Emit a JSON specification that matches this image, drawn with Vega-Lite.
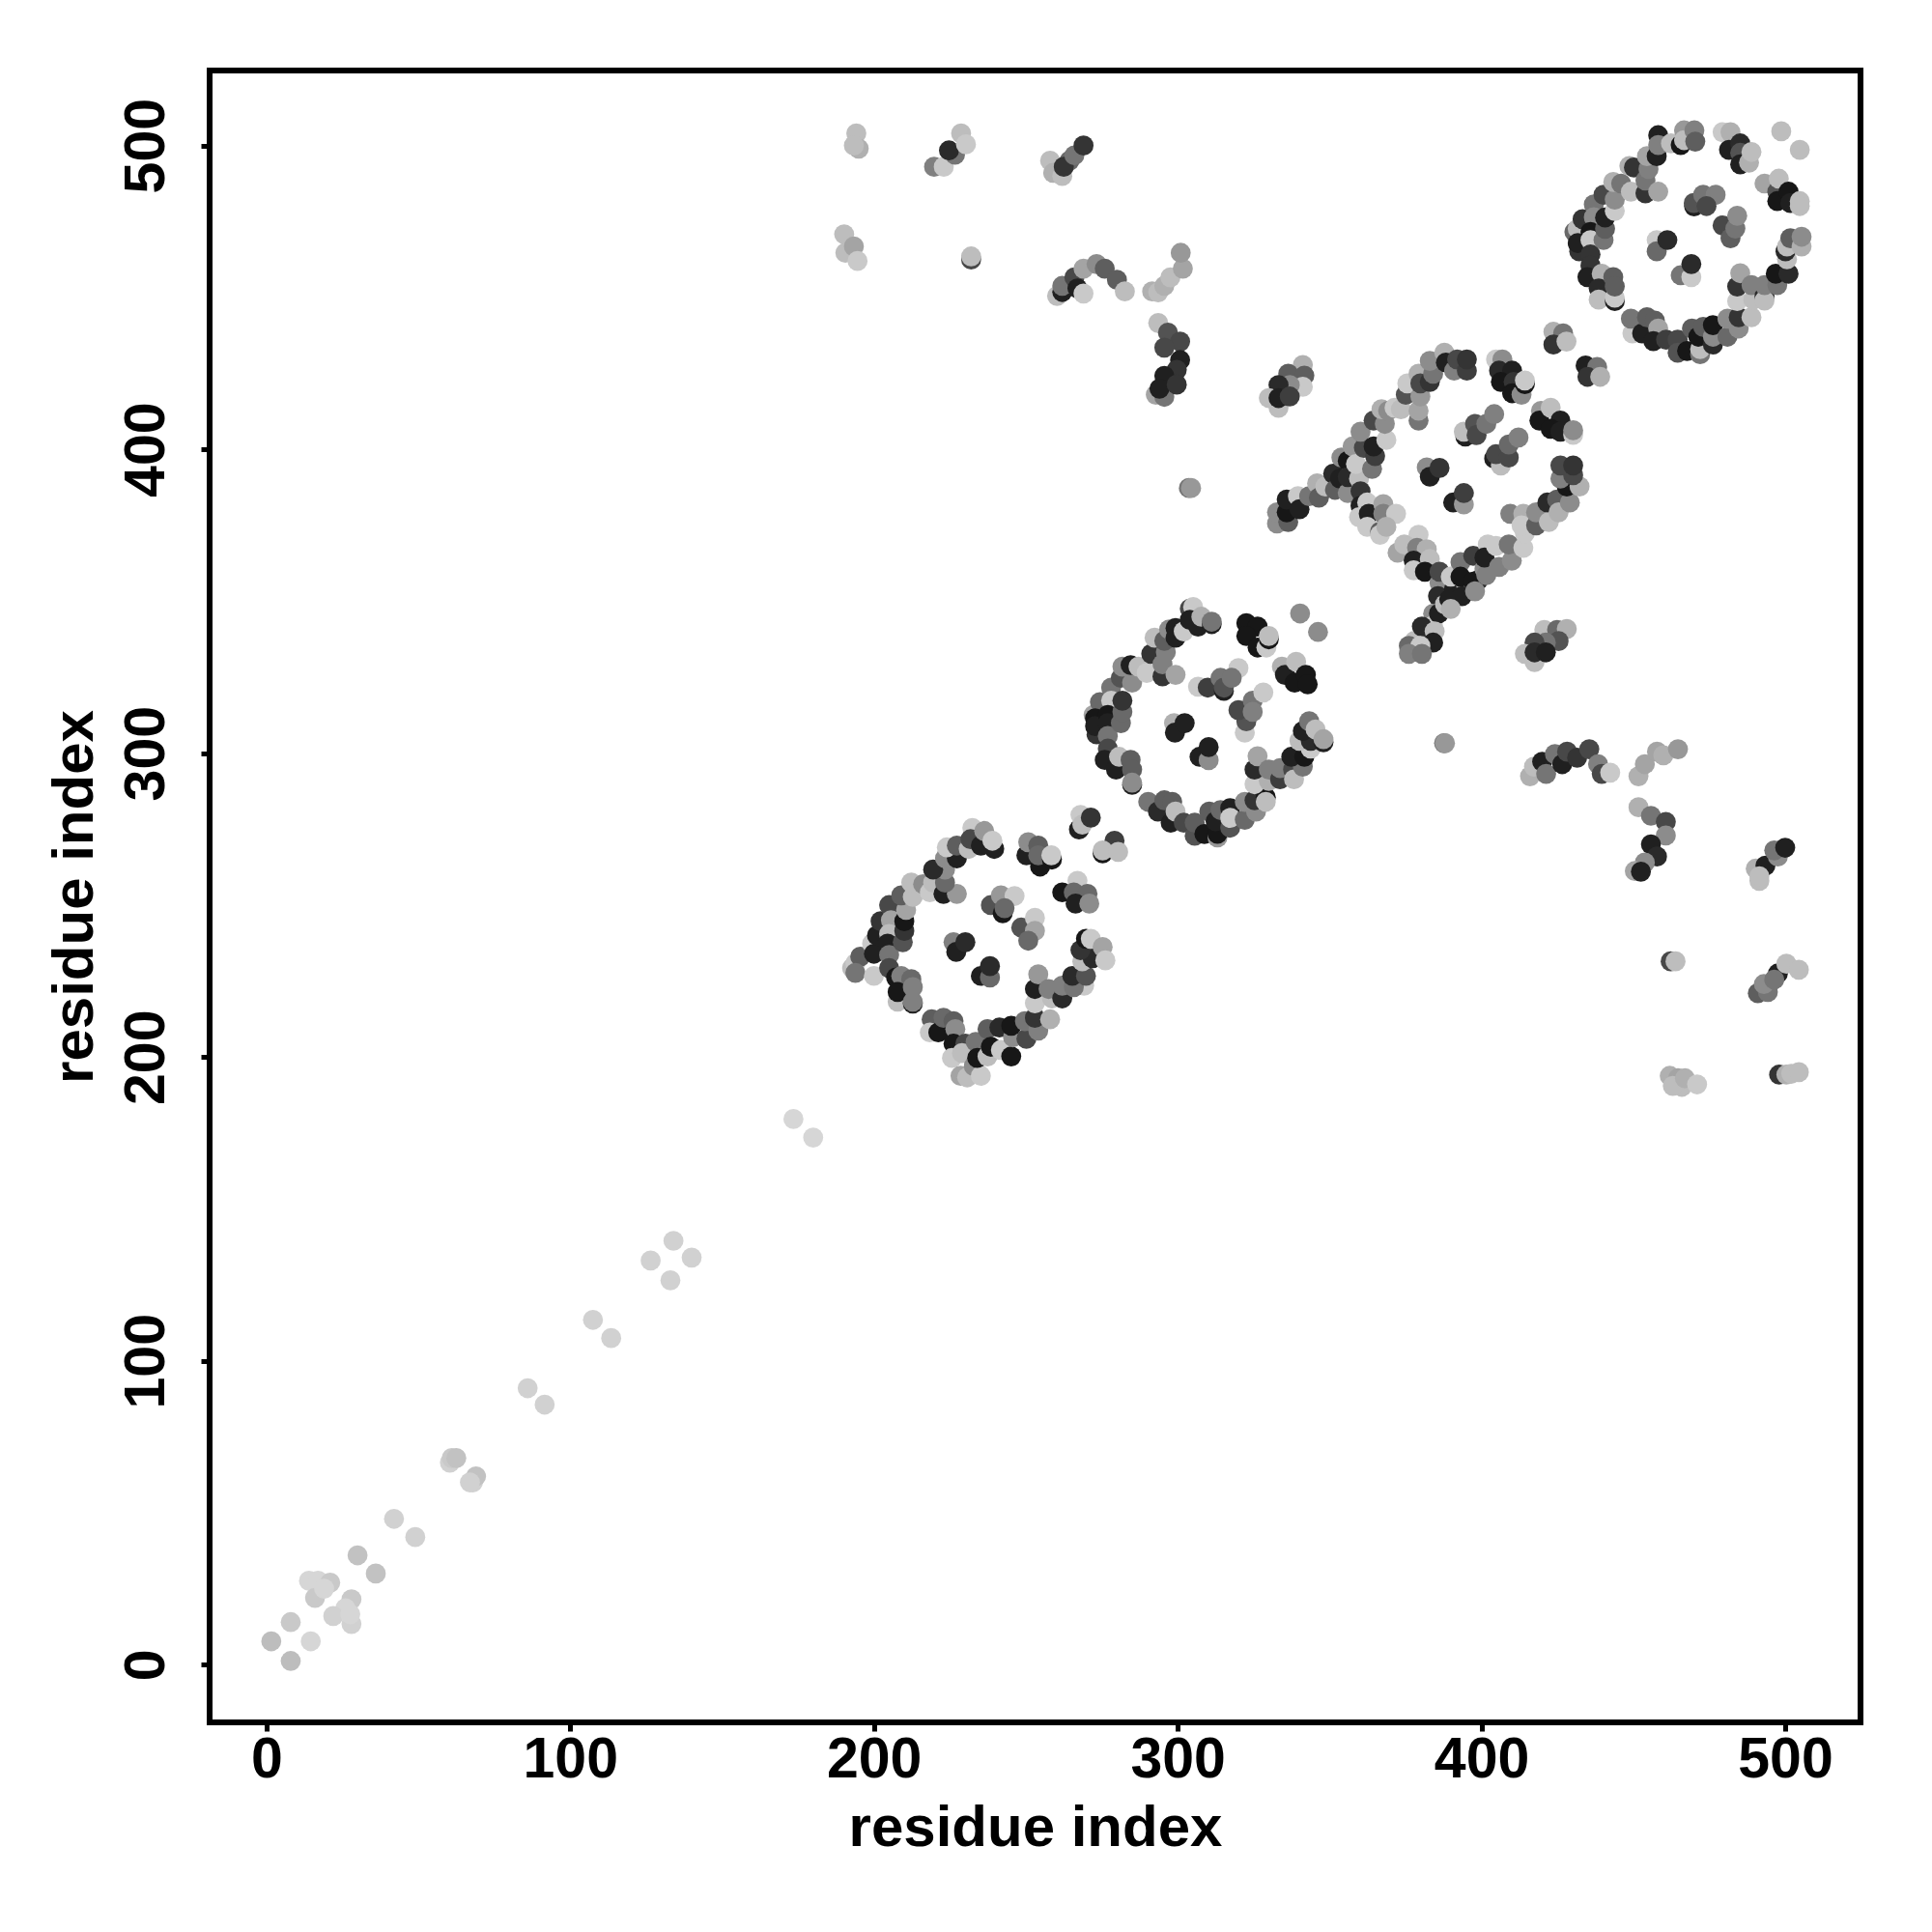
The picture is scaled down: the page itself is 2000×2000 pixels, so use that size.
{"$schema":"https://vega.github.io/schema/vega-lite/v6.json","width":1709,"height":1710,"autosize":"none","padding":{"left":217,"top":73,"right":74,"bottom":217},"background":"white",
"config":{"view":{"stroke":"black","strokeWidth":6}},
"data":{"values":[
{"x":1.6,"y":7.7,"g":0.8},{"x":8,"y":1.2,"g":0.8},{"x":8,"y":14,"g":0.85},{"x":14.6,"y":7.7,"g":0.9},{"x":14,"y":27.6,"g":0.9},{"x":17,"y":27.6,"g":0.9},{"x":16,"y":22,"g":0.85},{"x":21,"y":27,"g":0.85},{"x":19,"y":25,"g":0.9},{"x":28,"y":21.5,"g":0.85},{"x":26,"y":18.6,"g":0.9},{"x":22,"y":16,"g":0.88},{"x":28,"y":13.4,"g":0.88},{"x":27.6,"y":16.6,"g":0.9},{"x":30,"y":36,"g":0.82},{"x":36,"y":30,"g":0.82},{"x":42,"y":48,"g":0.88},{"x":49,"y":42,"g":0.88},{"x":60.4,"y":66.5,"g":0.88},{"x":61,"y":68,"g":0.85},{"x":62.5,"y":68,"g":0.82},{"x":68,"y":60,"g":0.88},{"x":69,"y":62,"g":0.82},{"x":67,"y":60,"g":0.88},{"x":86,"y":91,"g":0.88},{"x":91.6,"y":85.6,"g":0.88},{"x":107.5,"y":113.5,"g":0.88},{"x":113.5,"y":107.5,"g":0.88},{"x":126.5,"y":133,"g":0.88},{"x":133,"y":126.5,"g":0.88},{"x":134,"y":139.5,"g":0.88},{"x":140,"y":134,"g":0.88},{"x":173.5,"y":179.6,"g":0.9},{"x":180,"y":173.5,"g":0.9},
{"x":192.8,"y":229.3,"g":0.8},{"x":193.9,"y":230.9,"g":0.85},{"x":195.5,"y":233,"g":0.4},{"x":193.9,"y":227.7,"g":0.5},{"x":199.4,"y":237.3,"g":0.85},{"x":200,"y":234,"g":0.1},{"x":201,"y":240,"g":0.1},{"x":202.2,"y":244.7,"g":0.2},{"x":205,"y":250,"g":0.3},{"x":205.6,"y":245,"g":0.7},{"x":205,"y":240.5,"g":0.8},{"x":204.5,"y":237.3,"g":0.1},{"x":205,"y":233.6,"g":0.5},{"x":209.5,"y":237.8,"g":0.35},{"x":210,"y":241.5,"g":0.2},{"x":210,"y":244.7,"g":0.05},{"x":210.6,"y":248.4,"g":0.7},{"x":209,"y":253.2,"g":0.4},{"x":212.8,"y":252.7,"g":0.8},{"x":212.3,"y":257.4,"g":0.8},{"x":216.2,"y":256.9,"g":0.6},{"x":218.4,"y":254.2,"g":0.85},{"x":219.5,"y":257.4,"g":0.8},{"x":222.9,"y":253.7,"g":0.1},{"x":227.3,"y":253.7,"g":0.65},{"x":223.4,"y":257.4,"g":0.45},{"x":223.4,"y":261.7,"g":0.6},{"x":219.5,"y":261.7,"g":0.15},{"x":223.4,"y":265.4,"g":0.6},{"x":227.3,"y":265.4,"g":0.1},{"x":224,"y":269,"g":0.85},{"x":227.3,"y":269.6,"g":0.4},{"x":231.2,"y":268.5,"g":0.8},{"x":232.4,"y":275.4,"g":0.85},{"x":231.8,"y":271.7,"g":0.3},{"x":235.2,"y":269.6,"g":0.1},{"x":236.3,"y":274.4,"g":0.65},{"x":239.6,"y":268.5,"g":0.1},{"x":239,"y":271.2,"g":0.85},
{"x":200,"y":226.7,"g":0.85},{"x":205,"y":229.3,"g":0.3},{"x":207.3,"y":226.2,"g":0.05},{"x":209,"y":226.7,"g":0.55},{"x":212.3,"y":225.6,"g":0.45},{"x":207.8,"y":218.2,"g":0.8},{"x":207.8,"y":221.4,"g":0.05},{"x":212.8,"y":217.6,"g":0.1},{"x":212.8,"y":223,"g":0.55},{"x":212.8,"y":218.2,"g":0.55},
{"x":219,"y":212.4,"g":0.4},{"x":218.4,"y":208.1,"g":0.85},{"x":221.2,"y":208.1,"g":0.05},{"x":222.9,"y":212.9,"g":0.45},{"x":226.2,"y":211.8,"g":0.4},{"x":226.8,"y":209.2,"g":0.6},{"x":226.2,"y":204.4,"g":0.05},{"x":230.1,"y":204.4,"g":0.3},{"x":225.7,"y":199.7,"g":0.85},{"x":228.5,"y":193.8,"g":0.7},{"x":230.7,"y":193.3,"g":0.8},{"x":229,"y":201.3,"g":0.8},{"x":232.9,"y":197,"g":0.6},{"x":235.2,"y":193.8,"g":0.85},{"x":233.5,"y":205,"g":0.5},{"x":234,"y":199.7,"g":0.05},{"x":237.4,"y":209.2,"g":0.4},{"x":237.4,"y":200.2,"g":0.8},{"x":238.5,"y":203.4,"g":0.05},{"x":241.3,"y":209.7,"g":0.15},{"x":241.8,"y":202.3,"g":0.85},{"x":245.2,"y":200.2,"g":0.05},{"x":245.8,"y":206.5,"g":0.6},{"x":245.2,"y":210.3,"g":0.05},{"x":250.2,"y":206,"g":0.3},{"x":249.7,"y":211.8,"g":0.5},{"x":254.1,"y":208.7,"g":0.55},{"x":253,"y":212.9,"g":0.2},{"x":258,"y":212.4,"g":0.75},{"x":253,"y":217.7,"g":0.85},{"x":253,"y":222.4,"g":0.1},{"x":258.6,"y":219.3,"g":0.8},{"x":254.1,"y":227.2,"g":0.65},{"x":257.5,"y":222.4,"g":0.55},{"x":262,"y":219.3,"g":0.15},{"x":262,"y":223.5,"g":0.55},{"x":269.2,"y":223.5,"g":0.85},{"x":265.8,"y":223,"g":0.5},{"x":265.3,"y":226.7,"g":0.15},{"x":269.8,"y":226.7,"g":0.35},{"x":268.6,"y":231.5,"g":0.8},{"x":272,"y":232.5,"g":0.15},{"x":268,"y":235.2,"g":0.2},{"x":269.8,"y":238.9,"g":0.05},{"x":271.4,"y":238.9,"g":0.85},{"x":275.3,"y":236.2,"g":0.7},{"x":276.2,"y":231.8,"g":0.85},
{"x":250.2,"y":266.4,"g":0.1},{"x":250.8,"y":270.7,"g":0.6},{"x":254.7,"y":262.7,"g":0.05},{"x":254.1,"y":269.6,"g":0.4},{"x":254.1,"y":266.4,"g":0.45},{"x":258.6,"y":265,"g":0.05},{"x":258.4,"y":266.4,"g":0.85},{"x":267,"y":258,"g":0.85},{"x":262,"y":254.2,"g":0.05},{"x":265.8,"y":254.2,"g":0.45},{"x":270.3,"y":253.7,"g":0.45},{"x":266.4,"y":250.5,"g":0.1},{"x":270.9,"y":250.5,"g":0.6},{"x":267.5,"y":274.9,"g":0.1},{"x":268,"y":279.7,"g":0.85},{"x":268.6,"y":276.5,"g":0.8},{"x":271.4,"y":278.8,"g":0.2},{"x":279.2,"y":271.2,"g":0.25},{"x":275.3,"y":267,"g":0.05},{"x":275.3,"y":268,"g":0.8},{"x":280.4,"y":267.5,"g":0.8},
{"x":226.2,"y":237.8,"g":0.55},{"x":227.1,"y":234.6,"g":0.1},{"x":230.1,"y":237.8,"g":0.15},{"x":235.2,"y":226.7,"g":0.1},{"x":238.2,"y":226.2,"g":0.45},{"x":238.2,"y":229.9,"g":0.15},{"x":238.5,"y":250,"g":0.35},{"x":242.4,"y":247.3,"g":0.05},{"x":241.8,"y":253.2,"g":0.65},{"x":246.3,"y":253,"g":0.85},{"x":243,"y":249,"g":0.45},{"x":248.5,"y":242.6,"g":0.35},{"x":253,"y":245.8,"g":0.85},{"x":253,"y":241.5,"g":0.7},{"x":250.8,"y":238.3,"g":0.45},
{"x":272.3,"y":312.6,"g":0.7},{"x":274.4,"y":316.8,"g":0.45},{"x":272.8,"y":311.5,"g":0.05},{"x":273.3,"y":306.2,"g":0.2},{"x":272.8,"y":308.9,"g":0.1},{"x":278.1,"y":321.6,"g":0.5},{"x":278.1,"y":317.3,"g":0.85},{"x":277,"y":312.6,"g":0.05},{"x":277,"y":309.9,"g":0.1},{"x":277,"y":305.7,"g":0.5},{"x":277,"y":301.5,"g":0.3},{"x":281.3,"y":309.9,"g":0.45},{"x":281.8,"y":313.6,"g":0.45},{"x":281.8,"y":317.3,"g":0.2},{"x":281.3,"y":324.8,"g":0.35},{"x":285,"y":323.2,"g":0.6},{"x":281.8,"y":328.5,"g":0.6},{"x":284.5,"y":329,"g":0.1},{"x":287.1,"y":328.5,"g":0.8},{"x":289.8,"y":326.4,"g":0.85},{"x":291.3,"y":332.7,"g":0.2},{"x":292.4,"y":338,"g":0.8},{"x":295,"y":325.3,"g":0.2},{"x":295,"y":329.3,"g":0.55},{"x":299.3,"y":325.8,"g":0.7},{"x":296.1,"y":333.3,"g":0.55},{"x":295.6,"y":337,"g":0.4},{"x":297.2,"y":340.7,"g":0.6},{"x":299.3,"y":341.2,"g":0.1},{"x":299.3,"y":338,"g":0.1},{"x":302,"y":340.1,"g":0.85},{"x":304,"y":347.6,"g":0.3},{"x":305.1,"y":348.1,"g":0.85},{"x":304,"y":343.9,"g":0.1},{"x":306.7,"y":341.7,"g":0.1},{"x":307.8,"y":344.9,"g":0.75},{"x":311.2,"y":342.5,"g":0.1},{"x":311.2,"y":343.3,"g":0.5},
{"x":276,"y":297.8,"g":0.1},{"x":279.7,"y":294.6,"g":0.1},{"x":280.7,"y":298.8,"g":0.8},{"x":284.5,"y":297.8,"g":0.4},{"x":285,"y":294.6,"g":0.4},{"x":285,"y":289.6,"g":0.1},{"x":285,"y":290.3,"g":0.6},
{"x":290.3,"y":284,"g":0.5},{"x":293.5,"y":280.8,"g":0.15},{"x":295.6,"y":284.5,"g":0.4},{"x":297.7,"y":277.1,"g":0.1},{"x":298.2,"y":284,"g":0.4},{"x":299.3,"y":280.8,"g":0.8},{"x":302,"y":277.1,"g":0.3},{"x":305.6,"y":272.8,"g":0.35},{"x":305.6,"y":277.1,"g":0.4},{"x":308.8,"y":273.4,"g":0.05},{"x":310.4,"y":280.8,"g":0.4},{"x":313.1,"y":272.3,"g":0.65},{"x":313.1,"y":273.5,"g":0.05},{"x":312.5,"y":277.6,"g":0.1},{"x":314.1,"y":281.3,"g":0.45},{"x":317.3,"y":275.5,"g":0.35},{"x":317.3,"y":281.9,"g":0.1},{"x":317.3,"y":278.7,"g":0.85},{"x":322.1,"y":278.1,"g":0.45},{"x":322.1,"y":284,"g":0.6},{"x":325.8,"y":280.8,"g":0.6},{"x":325.3,"y":284.5,"g":0.2},{"x":329,"y":285.5,"g":0.05},{"x":329,"y":284,"g":0.8},{"x":325.3,"y":289.8,"g":0.85},{"x":330,"y":290.9,"g":0.75},{"x":325.3,"y":294.6,"g":0.15},{"x":326.3,"y":299,"g":0.7},{"x":330,"y":294.6,"g":0.55},{"x":333.7,"y":291.4,"g":0.25},{"x":333.7,"y":295.1,"g":0.55},{"x":338,"y":294.6,"g":0.3},{"x":338.3,"y":291.4,"g":0.8},{"x":341.2,"y":295.6,"g":0.5},{"x":337.4,"y":298.8,"g":0.1},{"x":341.7,"y":298.8,"g":0.05},{"x":343.8,"y":301.5,"g":0.85},{"x":340.1,"y":304.1,"g":0.8},{"x":343.8,"y":304.1,"g":0.15},{"x":341.2,"y":307.3,"g":0.1},{"x":343.3,"y":310.5,"g":0.5},{"x":345.4,"y":307.8,"g":0.8},{"x":348,"y":303.6,"g":0.1},{"x":348,"y":304.6,"g":0.7},
{"x":322.6,"y":342.8,"g":0.05},{"x":326.3,"y":341.7,"g":0.05},{"x":322.6,"y":338.6,"g":0.05},{"x":326.3,"y":334.8,"g":0.05},{"x":329.2,"y":334.8,"g":0.85},{"x":330,"y":337.5,"g":0.05},{"x":330,"y":338.6,"g":0.8},{"x":334.3,"y":328.5,"g":0.75},{"x":335.3,"y":325.8,"g":0.1},{"x":338.5,"y":323.2,"g":0.05},{"x":339,"y":330.1,"g":0.8},{"x":342.2,"y":325.8,"g":0.05},{"x":342.8,"y":322.7,"g":0.05},{"x":340.3,"y":346,"g":0.6},{"x":346.2,"y":339.9,"g":0.6},
{"x":298.8,"y":309.9,"g":0.75},{"x":299.1,"y":306.8,"g":0.1},{"x":302.3,"y":309.9,"g":0.1},{"x":307.2,"y":298.8,"g":0.1},{"x":310.2,"y":297.7,"g":0.6},{"x":310.2,"y":302,"g":0.1},{"x":306.7,"y":321.9,"g":0.85},{"x":309.9,"y":321.6,"g":0.25},{"x":315.2,"y":320.5,"g":0.1},{"x":314.1,"y":324.8,"g":0.5},{"x":315.2,"y":321.6,"g":0.35},{"x":320,"y":328,"g":0.85},{"x":317.8,"y":324.8,"g":0.5},{"x":322.1,"y":306.8,"g":0.85},{"x":322.6,"y":310.5,"g":0.35},{"x":320,"y":314.2,"g":0.3},{"x":324.7,"y":317.3,"g":0.5},{"x":328.2,"y":320,"g":0.85},{"x":324.7,"y":313.6,"g":0.55},
{"x":341.2,"y":427.8,"g":0.75},{"x":336.4,"y":424.9,"g":0.4},{"x":341.7,"y":424.3,"g":0.4},{"x":341.2,"y":420.6,"g":0.85},{"x":336.9,"y":421.2,"g":0.6},{"x":333.2,"y":421.2,"g":0.15},{"x":330,"y":416.9,"g":0.8},{"x":333.2,"y":413.7,"g":0.8},{"x":333.2,"y":416.9,"g":0.1},{"x":336.9,"y":417.4,"g":0.25},
{"x":332.7,"y":375.6,"g":0.6},{"x":332.7,"y":379.3,"g":0.6},{"x":336.4,"y":376.1,"g":0.4},{"x":335.9,"y":379.3,"g":0.05},{"x":335.9,"y":383.5,"g":0.1},{"x":339.6,"y":384.6,"g":0.85},{"x":340.1,"y":380.3,"g":0.1},{"x":343.3,"y":384.6,"g":0.5},{"x":345.9,"y":388.8,"g":0.75},{"x":346.5,"y":384.1,"g":0.4},{"x":348.6,"y":387.8,"g":0.8},{"x":351.2,"y":392,"g":0.15},{"x":351.8,"y":386.7,"g":0.4},{"x":353.9,"y":397.3,"g":0.6},{"x":353.4,"y":390.4,"g":0.1},{"x":356,"y":396.2,"g":0.05},{"x":356,"y":385.6,"g":0.6},{"x":357.6,"y":401,"g":0.65},{"x":356,"y":390.9,"g":0.15},{"x":359.7,"y":390.4,"g":0.8},{"x":360.2,"y":386.2,"g":0.2},{"x":358.7,"y":395.2,"g":0.85},{"x":361.3,"y":400.5,"g":0.3},{"x":360.2,"y":405.8,"g":0.6},{"x":364,"y":393.6,"g":0.5},{"x":365,"y":397.8,"g":0.25},{"x":364.5,"y":401,"g":0.1},{"x":364.5,"y":409.5,"g":0.3},{"x":368.7,"y":403.1,"g":0.85},{"x":368.2,"y":408.4,"g":0.6},{"x":367.1,"y":413.2,"g":0.75},{"x":369.3,"y":412.7,"g":0.6},{"x":371.4,"y":413.7,"g":0.85},{"x":373.5,"y":413.2,"g":0.8},{"x":375.1,"y":418,"g":0.35},{"x":375.6,"y":421.7,"g":0.85},{"x":379.3,"y":409.5,"g":0.5},{"x":379.3,"y":412.7,"g":0.7},{"x":379.9,"y":417.4,"g":0.65},{"x":379.3,"y":424.9,"g":0.75},{"x":379.9,"y":421.7,"g":0.3},{"x":383,"y":422.2,"g":0.2},{"x":384.1,"y":424.9,"g":0.5},{"x":383,"y":429.1,"g":0.6},{"x":387.8,"y":431.8,"g":0.75},{"x":388.3,"y":428.6,"g":0.1},{"x":391,"y":425.9,"g":0.55},{"x":392,"y":429.6,"g":0.3},{"x":395.2,"y":425.9,"g":0.25},{"x":395.2,"y":429.6,"g":0.2},
{"x":360.2,"y":381.4,"g":0.1},{"x":362.4,"y":382.5,"g":0.85},{"x":359.7,"y":377.7,"g":0.85},{"x":362.9,"y":378.8,"g":0.1},{"x":362.4,"y":374.5,"g":0.85},{"x":367.7,"y":382,"g":0.7},{"x":367.7,"y":378.8,"g":0.55},{"x":371.9,"y":378.8,"g":0.85},{"x":366.6,"y":372.9,"g":0.4},{"x":366.6,"y":371.9,"g":0.85},{"x":368.7,"y":374.5,"g":0.75},
{"x":372.4,"y":366,"g":0.7},{"x":379.3,"y":371.9,"g":0.85},{"x":374.6,"y":368.7,"g":0.8},{"x":378.8,"y":367.6,"g":0.55},{"x":382,"y":367.1,"g":0.75},{"x":377.7,"y":363.4,"g":0.1},{"x":383,"y":363.9,"g":0.8},{"x":377.7,"y":360.2,"g":0.85},{"x":381.4,"y":359.7,"g":0.05},{"x":386.2,"y":356,"g":0.6},{"x":386.2,"y":359.7,"g":0.3},{"x":385.7,"y":351.7,"g":0.15},{"x":384.1,"y":345.9,"g":0.6},{"x":382,"y":338,"g":0.3},{"x":384,"y":342,"g":0.85},{"x":386,"y":346,"g":0.1},{"x":388,"y":349,"g":0.8},{"x":391,"y":354,"g":0.1},{"x":395,"y":355,"g":0.8},{"x":378,"y":337,"g":0.8},{"x":399,"y":357,"g":0.15},{"x":389.9,"y":358.1,"g":0.85},{"x":393.1,"y":362.9,"g":0.5},{"x":393.1,"y":358.1,"g":0.05},{"x":389.4,"y":350.7,"g":0.1},{"x":393.6,"y":351.7,"g":0.1},{"x":389.9,"y":347.5,"g":0.75},{"x":380.4,"y":341.7,"g":0.15},{"x":384.6,"y":340.1,"g":0.8},{"x":384.1,"y":336.4,"g":0.1},{"x":376.1,"y":335.3,"g":0.45},{"x":379.9,"y":335.3,"g":0.85},{"x":376.1,"y":332.7,"g":0.55},{"x":380.4,"y":332.7,"g":0.5},{"x":397.3,"y":365,"g":0.25},{"x":397.3,"y":356.5,"g":0.05},{"x":397.9,"y":353.3,"g":0.6},{"x":401,"y":360.7,"g":0.6},{"x":401.6,"y":358.6,"g":0.55},{"x":402.1,"y":368.7,"g":0.85},{"x":401,"y":364.4,"g":0.1},{"x":405.8,"y":361.3,"g":0.55},{"x":404.8,"y":368.2,"g":0.85},{"x":410,"y":363.4,"g":0.6},{"x":409,"y":368.7,"g":0.5},{"x":413.8,"y":367.6,"g":0.85},{"x":414.3,"y":372.4,"g":0.85},{"x":409.5,"y":378.8,"g":0.55},{"x":413.8,"y":378.8,"g":0.75},{"x":413.2,"y":375,"g":0.85},{"x":418,"y":375,"g":0.4},{"x":418,"y":379.3,"g":0.6},{"x":422.2,"y":376.1,"g":0.8},{"x":421.7,"y":382.5,"g":0.15},{"x":424.9,"y":383.5,"g":0.4},{"x":425.4,"y":379.3,"g":0.75},{"x":429.1,"y":382.5,"g":0.6},{"x":428.1,"y":387.8,"g":0.05},{"x":432.3,"y":387.8,"g":0.75},{"x":426,"y":390.4,"g":0.55},{"x":430.2,"y":391.5,"g":0.3},{"x":426,"y":394.7,"g":0.3},{"x":430.2,"y":394.7,"g":0.2},
{"x":404.8,"y":429.6,"g":0.85},{"x":406.9,"y":429.6,"g":0.6},{"x":405.8,"y":425.9,"g":0.15},{"x":410.1,"y":425.9,"g":0.1},{"x":406.4,"y":422.2,"g":0.05},{"x":410.6,"y":422.2,"g":0.2},{"x":410.1,"y":418.5,"g":0.05},{"x":413.2,"y":418,"g":0.6},{"x":414.3,"y":421.5,"g":0.05},{"x":414.3,"y":422.7,"g":0.85},{"x":419.6,"y":412.7,"g":0.65},{"x":419.1,"y":409.5,"g":0.05},{"x":422.8,"y":413.7,"g":0.8},{"x":426,"y":409.5,"g":0.1},{"x":422.8,"y":406.8,"g":0.05},{"x":426,"y":405.8,"g":0.1},{"x":430.2,"y":404.8,"g":0.85},{"x":430.2,"y":406.3,"g":0.6},
{"x":382,"y":394.1,"g":0.6},{"x":383,"y":391,"g":0.1},{"x":386.2,"y":393.9,"g":0.2},{"x":390.7,"y":382.5,"g":0.1},{"x":394.2,"y":381.9,"g":0.65},{"x":394.2,"y":385.6,"g":0.25},{"x":394.7,"y":404.2,"g":0.1},{"x":394.2,"y":405.8,"g":0.8},{"x":397.9,"y":408.4,"g":0.35},{"x":398.4,"y":404.7,"g":0.3},{"x":401.6,"y":408.4,"g":0.5},{"x":404.2,"y":411.6,"g":0.55},{"x":404.2,"y":397,"g":0.1},{"x":406.4,"y":394.7,"g":0.8},{"x":404.8,"y":398.4,"g":0.3},{"x":409,"y":397.3,"g":0.3},{"x":409,"y":401.6,"g":0.45},{"x":412.2,"y":403.9,"g":0.55},
{"x":420.7,"y":340.6,"g":0.8},{"x":424.9,"y":340.6,"g":0.45},{"x":428.1,"y":340.9,"g":0.75},{"x":425.4,"y":336.9,"g":0.35},{"x":421.2,"y":336.4,"g":0.5},{"x":417.5,"y":336.4,"g":0.3},{"x":414.3,"y":332.7,"g":0.8},{"x":417.5,"y":330,"g":0.8},{"x":417.5,"y":333.2,"g":0.15},{"x":421.2,"y":333.2,"g":0.1},
{"x":423.7,"y":438.7,"g":0.75},{"x":426.9,"y":438.2,"g":0.5},{"x":423.7,"y":434.5,"g":0.2},{"x":428,"y":435.5,"g":0.8},{"x":434.3,"y":427.6,"g":0.1},{"x":438.1,"y":427.1,"g":0.5},{"x":434.9,"y":423.9,"g":0.2},{"x":439.1,"y":423.9,"g":0.75},
{"x":430.6,"y":471.6,"g":0.45},{"x":431.7,"y":472.6,"g":0.8},{"x":433.3,"y":475.8,"g":0.2},{"x":432.2,"y":465.2,"g":0.2},{"x":431.7,"y":467.9,"g":0.1},{"x":437,"y":480.6,"g":0.5},{"x":437,"y":476.4,"g":0.6},{"x":435.9,"y":471.6,"g":0.05},{"x":435.9,"y":468.9,"g":0.85},{"x":435.9,"y":464.2,"g":0.2},{"x":435.9,"y":460.5,"g":0.2},{"x":440.2,"y":468.9,"g":0.5},{"x":440.7,"y":472.6,"g":0.4},{"x":440.7,"y":476.3,"g":0.1},{"x":440.2,"y":483.8,"g":0.3},{"x":443.9,"y":478.5,"g":0.85},{"x":443.9,"y":482.2,"g":0.6},{"x":443.4,"y":488,"g":0.75},{"x":446,"y":487.5,"g":0.5},{"x":448.7,"y":493.3,"g":0.75},{"x":450.2,"y":492.8,"g":0.2},{"x":449.2,"y":484.8,"g":0.8},{"x":454,"y":484.3,"g":0.2},{"x":454,"y":488.5,"g":0.5},{"x":458.2,"y":484.8,"g":0.7},{"x":455,"y":492.3,"g":0.55},{"x":454.5,"y":496.5,"g":0.7},{"x":457.7,"y":496.5,"g":0.1},{"x":458.2,"y":503.4,"g":0.1},{"x":458.2,"y":500.2,"g":0.55},{"x":462.4,"y":500.7,"g":0.8},{"x":465.6,"y":500.2,"g":0.05},{"x":466.7,"y":505,"g":0.65},{"x":466.7,"y":501.8,"g":0.8},{"x":470.1,"y":505,"g":0.55},{"x":470.4,"y":501.3,"g":0.4},
{"x":434.9,"y":456.7,"g":0.1},{"x":439.6,"y":457.8,"g":0.75},{"x":438.6,"y":453,"g":0.15},{"x":443.4,"y":456.7,"g":0.4},{"x":438.6,"y":449.3,"g":0.8},{"x":443.9,"y":448.8,"g":0.1},{"x":443.9,"y":449.9,"g":0.85},{"x":443.9,"y":453.6,"g":0.4},
{"x":449.7,"y":438.2,"g":0.85},{"x":449.2,"y":443,"g":0.5},{"x":452.9,"y":438.2,"g":0.1},{"x":454.5,"y":443.5,"g":0.4},{"x":457.1,"y":442.4,"g":0.4},{"x":458.2,"y":439.8,"g":0.7},{"x":456.6,"y":435.6,"g":0.1},{"x":460.8,"y":436.1,"g":0.25},{"x":464.6,"y":436.1,"g":0.3},{"x":464.6,"y":431.8,"g":0.35},{"x":467.7,"y":432.4,"g":0.05},{"x":469.3,"y":439.8,"g":0.4},{"x":472,"y":431.3,"g":0.5},{"x":472,"y":433,"g":0.8},{"x":471.4,"y":437.1,"g":0.05},{"x":473,"y":440.3,"g":0.4},{"x":476.2,"y":434.5,"g":0.15},{"x":476.2,"y":437.1,"g":0.6},{"x":476.2,"y":440.9,"g":0.05},{"x":481,"y":437.1,"g":0.45},{"x":481,"y":443,"g":0.6},{"x":484.7,"y":439.8,"g":0.6},{"x":484.7,"y":443.5,"g":0.2},{"x":488.9,"y":443.5,"g":0.8},{"x":484.2,"y":448.8,"g":0.85},{"x":484.2,"y":453.6,"g":0.2},{"x":489.5,"y":449.3,"g":0.8},{"x":485.2,"y":458,"g":0.7},{"x":488.9,"y":454.1,"g":0.55},{"x":493.2,"y":450.4,"g":0.15},{"x":493.2,"y":449,"g":0.8},{"x":493.2,"y":454.1,"g":0.55},{"x":497.4,"y":454.1,"g":0.5},{"x":496.9,"y":457.8,"g":0.05},{"x":501.1,"y":457.8,"g":0.15},{"x":500.6,"y":462.6,"g":0.8},{"x":500.1,"y":465.2,"g":0.15},{"x":500.6,"y":466.8,"g":0.8},{"x":501.7,"y":469.5,"g":0.4},{"x":505.4,"y":466.8,"g":0.75},{"x":505.4,"y":470,"g":0.6},
{"x":479.4,"y":504.4,"g":0.85},{"x":482,"y":504.4,"g":0.75},{"x":481.5,"y":498.6,"g":0.1},{"x":485.2,"y":500.7,"g":0.15},{"x":485.2,"y":497.6,"g":0.35},{"x":485.2,"y":493.8,"g":0.1},{"x":488.1,"y":494.4,"g":0.75},{"x":488.9,"y":497.9,"g":0.8},{"x":493.2,"y":487.5,"g":0.7},{"x":497.4,"y":484.8,"g":0.35},{"x":497.4,"y":481.7,"g":0.05},{"x":497.9,"y":489.1,"g":0.8},{"x":501.1,"y":484.8,"g":0.05},{"x":501.7,"y":481.1,"g":0.1},{"x":504.8,"y":481.7,"g":0.8},{"x":504.8,"y":480.1,"g":0.8},{"x":498.7,"y":504.7,"g":0.8},{"x":504.8,"y":498.6,"g":0.8},
{"x":457.7,"y":468.9,"g":0.85},{"x":457.7,"y":465.2,"g":0.45},{"x":461.2,"y":468.9,"g":0.15},{"x":465.6,"y":457.3,"g":0.5},{"x":469.1,"y":456.7,"g":0.85},{"x":469.1,"y":461,"g":0.15},{"x":470,"y":480,"g":0.1},{"x":469.9,"y":481.1,"g":0.35},{"x":473,"y":483.8,"g":0.5},{"x":477.1,"y":483.8,"g":0.55},{"x":474.1,"y":480.1,"g":0.3},{"x":479.4,"y":473.7,"g":0.3},{"x":482,"y":469.5,"g":0.4},{"x":483.6,"y":472.7,"g":0.5},{"x":484.2,"y":476.9,"g":0.6},
{"x":194.2,"y":504,"g":0.8},{"x":195,"y":499,"g":0.75},{"x":193.4,"y":500,"g":0.8},{"x":190.6,"y":464.7,"g":0.8},{"x":190.2,"y":470.8,"g":0.8},{"x":193.4,"y":466.8,"g":0.7},{"x":194.6,"y":462,"g":0.85},
{"x":219.8,"y":493,"g":0.55},{"x":223,"y":493,"g":0.85},{"x":226.7,"y":497,"g":0.5},{"x":224.7,"y":498.4,"g":0.15},{"x":228.7,"y":504,"g":0.8},{"x":230.3,"y":500.4,"g":0.85},
{"x":258,"y":495,"g":0.8},{"x":259,"y":491,"g":0.75},{"x":262,"y":490,"g":0.8},{"x":264.4,"y":495,"g":0.45},{"x":262.5,"y":493,"g":0.2},{"x":266,"y":496.8,"g":0.5},{"x":269,"y":500,"g":0.2},
{"x":232,"y":462.5,"g":0.3},{"x":232,"y":463.5,"g":0.8},
{"x":260.3,"y":450.5,"g":0.8},{"x":262,"y":451.8,"g":0.1},{"x":262,"y":453.8,"g":0.5},{"x":266,"y":456.6,"g":0.3},{"x":267,"y":453,"g":0.1},{"x":269,"y":451.3,"g":0.85},{"x":269,"y":459.5,"g":0.7},{"x":273.3,"y":461,"g":0.6},{"x":276,"y":459.5,"g":0.4},{"x":280,"y":455.8,"g":0.4},{"x":282.6,"y":452,"g":0.8},
{"x":291.6,"y":452,"g":0.75},{"x":293.6,"y":451.7,"g":0.8},{"x":295.6,"y":453.8,"g":0.75},{"x":297.6,"y":456.6,"g":0.8},{"x":301.7,"y":459.5,"g":0.7},{"x":301,"y":464.7,"g":0.65},
{"x":293.6,"y":441.6,"g":0.8},{"x":296.8,"y":438.4,"g":0.35},{"x":300.8,"y":435.5,"g":0.3},{"x":295.6,"y":433.5,"g":0.3},{"x":300.8,"y":429.4,"g":0.1},{"x":299.7,"y":426.2,"g":0.2},{"x":295.6,"y":424.2,"g":0.1},{"x":292.8,"y":418,"g":0.7},{"x":295.6,"y":417.3,"g":0.5},{"x":294,"y":420,"g":0.1},{"x":299.7,"y":421.3,"g":0.2},
{"x":303.7,"y":387.3,"g":0.5},{"x":304.4,"y":387.3,"g":0.65},{"x":387.7,"y":303.3,"g":0.5},{"x":388,"y":303.3,"g":0.65},
{"x":416,"y":292.4,"g":0.75},{"x":417.3,"y":295.6,"g":0.8},{"x":420,"y":297.2,"g":0.1},{"x":421.3,"y":293.2,"g":0.5},{"x":424.2,"y":299.7,"g":0.5},{"x":426.6,"y":296.4,"g":0.1},{"x":428.2,"y":300.5,"g":0.3},{"x":431.5,"y":298.5,"g":0.2},{"x":435.5,"y":301.3,"g":0.3},{"x":438.4,"y":296.4,"g":0.55},{"x":439.6,"y":293.2,"g":0.3},{"x":442.4,"y":293.6,"g":0.85},
{"x":451.7,"y":292.4,"g":0.75},{"x":453.8,"y":296.4,"g":0.7},{"x":457.8,"y":300.5,"g":0.7},{"x":459.9,"y":299.3,"g":0.75},{"x":464.7,"y":301.3,"g":0.65},
{"x":451.7,"y":282.2,"g":0.75},{"x":455.8,"y":279.4,"g":0.5},{"x":460.7,"y":277.4,"g":0.3},{"x":460.7,"y":272.9,"g":0.6},{"x":455.8,"y":270,"g":0.1},{"x":457.8,"y":266,"g":0.15},{"x":453.8,"y":264,"g":0.6},{"x":450.5,"y":261.2,"g":0.7},{"x":452.5,"y":261,"g":0.1},
{"x":462.3,"y":231.5,"g":0.3},{"x":463.9,"y":231.5,"g":0.8},
{"x":462,"y":193.8,"g":0.75},{"x":464.7,"y":193,"g":0.7},{"x":466,"y":190.2,"g":0.8},{"x":463,"y":190.5,"g":0.8},{"x":467,"y":193,"g":0.75},{"x":471,"y":191,"g":0.85},
{"x":498,"y":194.2,"g":0.2},{"x":500.4,"y":194.2,"g":0.75},{"x":502,"y":194.5,"g":0.8},{"x":504.5,"y":195,"g":0.8},
{"x":491,"y":221,"g":0.4},{"x":494.3,"y":221.4,"g":0.5},{"x":493,"y":224,"g":0.6},{"x":497.6,"y":227.5,"g":0.1},{"x":496.4,"y":225.5,"g":0.5},{"x":500.4,"y":230.7,"g":0.8},{"x":504.5,"y":228.7,"g":0.8},
{"x":490.3,"y":262,"g":0.75},{"x":491.5,"y":258,"g":0.8},{"x":493.5,"y":263,"g":0.1},{"x":491.5,"y":259.5,"g":0.8},{"x":497.6,"y":266,"g":0.6},{"x":496.4,"y":268,"g":0.5},{"x":500,"y":268.9,"g":0.1}
]},
"mark":{"type":"circle","opacity":1,"size":430},
"encoding":{
"x":{"field":"x","type":"quantitative","scale":{"domain":[-18.7,524.8],"nice":false,"zero":false},"axis":{"title":"residue index","values":[0,100,200,300,400,500],"grid":false,"domain":false,"tickColor":"black","tickWidth":5,"tickSize":9,"labelFont":"Liberation Sans","labelFontWeight":"bold","labelFontSize":59,"labelColor":"black","labelPadding":0,"labelFlush":false,"labelOverlap":false,"titleFont":"Liberation Sans","titleFontWeight":"bold","titleFontSize":60,"titleColor":"black","titlePadding":12}},
"y":{"field":"y","type":"quantitative","scale":{"domain":[-19,524.7],"nice":false,"zero":false},"axis":{"title":"residue index","values":[0,100,200,300,400,500],"grid":false,"domain":false,"tickColor":"black","tickWidth":5,"tickSize":9,"labelFont":"Liberation Sans","labelFontWeight":"bold","labelFontSize":59,"labelColor":"black","labelAngle":-90,"labelAlign":"center","labelBaseline":"bottom","labelPadding":27,"labelFlush":false,"labelOverlap":false,"titleFont":"Liberation Sans","titleFontWeight":"bold","titleFontSize":60,"titleColor":"black","titlePadding":14}},
"color":{"field":"g","type":"quantitative","legend":null,"scale":{"domain":[0,1],"range":["#0c0c0c","#f0f0f0"]}}
}}
